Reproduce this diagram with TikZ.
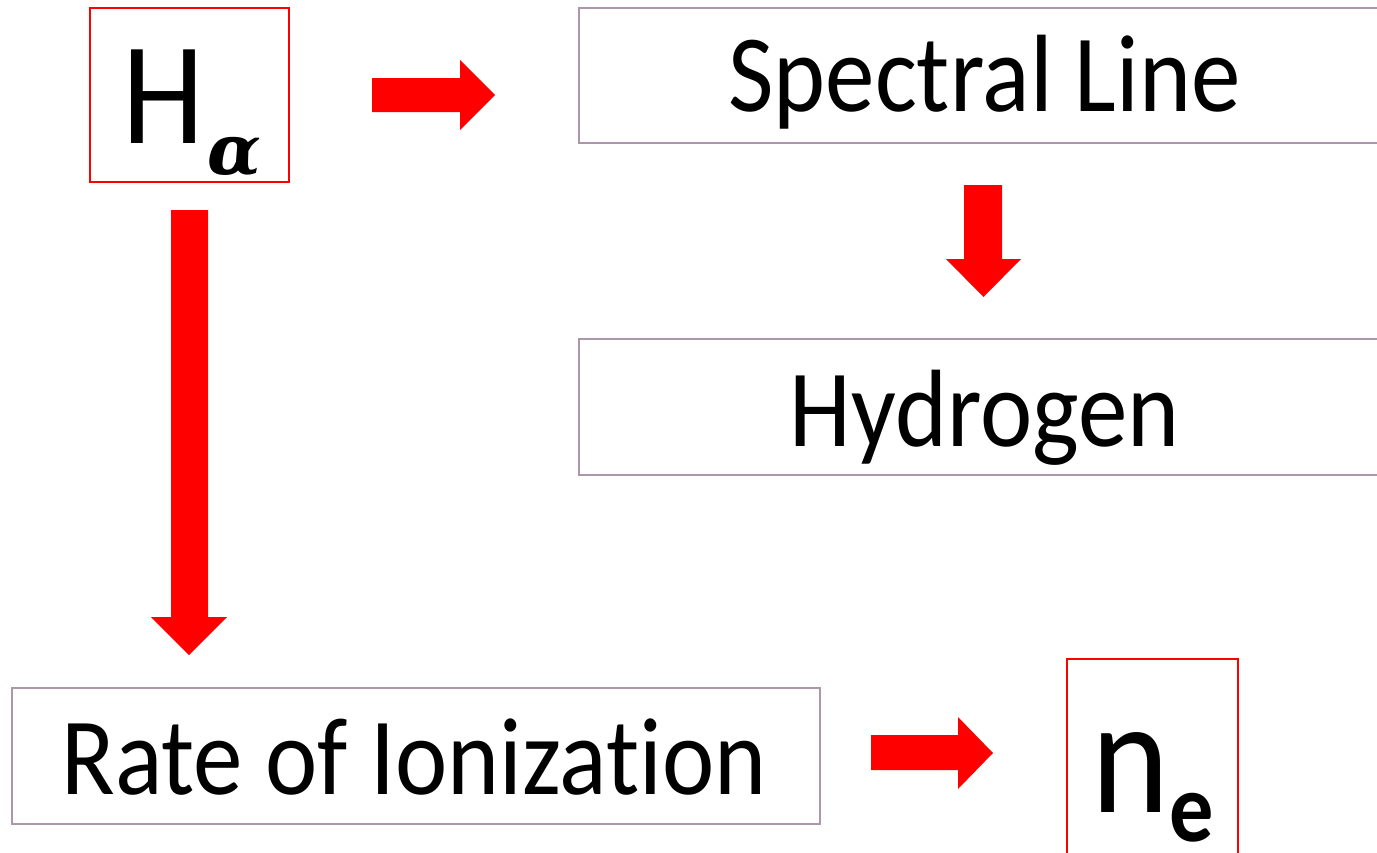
\documentclass[tikz,border=0pt]{standalone}
\usepackage{fontspec}
\setmainfont{Carlito}[FakeStretch=0.9,RawFeature=-liga]
\newfontfamily\grkfont{DejaVu Serif}
\definecolor{boxgray}{RGB}{172,150,172}
\definecolor{arrred}{RGB}{255,0,0}
\begin{document}
\begin{tikzpicture}[x=1pt,y=-1pt,
  graybox/.style={draw=boxgray,line width=1.5pt,inner sep=0pt,outer sep=0pt},
  redbox/.style={draw=red,line width=1.5pt,inner sep=0pt,outer sep=0pt},
  bigtext/.style={font=\fontsize{110}{130}\selectfont,inner sep=0pt,anchor=base},
  blockarrow/.style={fill=arrred,draw=none}]
\useasboundingbox (0,0) rectangle (1377,852);
\begin{scope}
\clip (0,0) rectangle (1377,852);
% boxes
\node[redbox,minimum width=199pt,minimum height=174pt] (ha) at (189.5,95) {};
\node[graybox,minimum width=811pt,minimum height=135pt] (spec) at (984.5,75.5) {};
\node[graybox,minimum width=811pt,minimum height=136pt] (hyd) at (984.5,407) {};
\node[graybox,minimum width=808pt,minimum height=136pt] (rate) at (416,756) {};
\node[redbox,minimum width=171pt,minimum height=220pt] (ne) at (1152.5,769) {};
% texts
\node[inner sep=0pt,anchor=base,font=\fontsize{146}{170}\selectfont] (hH) at (163.5,143) {H};
\node[inner sep=0pt,anchor=base,font=\fontsize{70}{90}\selectfont\grkfont\bfseries\itshape] (hal) at (234,174) {α};
\node[bigtext] (spect) at (984.5,111) {Spectral Line};
\node[bigtext] (hydt) at (984.5,446) {Hydrogen};
\node[bigtext] (ratet) at (414,794) {Rate of Ionization};
\node[inner sep=0pt,anchor=base,font=\fontsize{165}{200}\selectfont] (nn) at (1130,812) {n};
\node[inner sep=0pt,anchor=base,font=\fontsize{98}{120}\selectfont\bfseries] (ee) at (1192,841) {e};
% block arrows
\fill[blockarrow] (372,78) -- (460,78) -- (460,60) -- (495,95) -- (460,130) -- (460,112) -- (372,112) -- cycle;
\fill[blockarrow] (964,185) -- (1002,185) -- (1002,259) -- (1021,259) -- (983.5,297) -- (946,259) -- (964,259) -- cycle;
\fill[blockarrow] (171,210) -- (208,210) -- (208,617) -- (227,617) -- (189,655) -- (151,617) -- (171,617) -- cycle;
\fill[blockarrow] (871,735) -- (958,735) -- (958,717) -- (993,753) -- (958,789) -- (958,770) -- (871,770) -- cycle;
\end{scope}
\end{tikzpicture}
\end{document}
